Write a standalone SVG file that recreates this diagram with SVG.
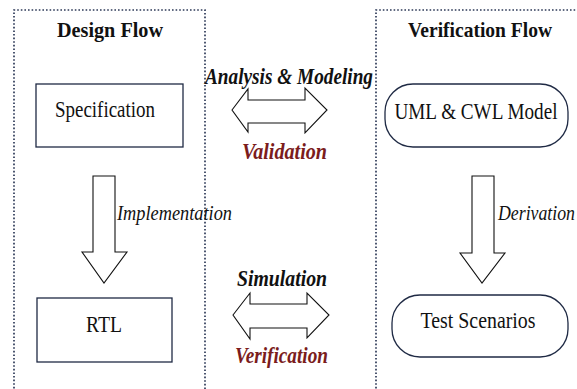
<svg xmlns="http://www.w3.org/2000/svg" width="577" height="389" viewBox="0 0 577 389" font-family="'Liberation Serif', 'DejaVu Serif', serif">
<style>
.frame{fill:none;stroke:#2e3a58;stroke-width:1.7;stroke-dasharray:1.6 2}
.box{fill:#fff;stroke:#1f2a44;stroke-width:1.3}
.arr{fill:#fff;stroke:#111;stroke-width:1.1;stroke-linejoin:miter}
text{font-family:'Liberation Serif','DejaVu Serif',serif;fill:#111}
.title{font-weight:bold;font-size:21px}
.lbl{font-size:23px}
.it{font-style:italic;font-size:21px}
.bi{font-style:italic;font-weight:bold;font-size:23px}
.red{fill:#7b1c1c}
</style>
<rect width="577" height="389" fill="#fff"/>
<g id="design-flow">
<path class="frame" d="M14 392 V10 H205 V392"/>
<text class="title" x="110" y="37" text-anchor="middle" textLength="106" lengthAdjust="spacingAndGlyphs">Design Flow</text>
</g>
<g id="verification-flow">
<path class="frame" d="M376 392 V10 H580"/>
<text class="title" x="480" y="37" text-anchor="middle" textLength="144" lengthAdjust="spacingAndGlyphs">Verification Flow</text>
</g>
<g id="specification">
<rect class="box" x="36" y="84" width="147" height="63"/>
<text class="lbl" x="105" y="117" text-anchor="middle" textLength="100" lengthAdjust="spacingAndGlyphs">Specification</text>
</g>
<g id="rtl">
<rect class="box" x="37" y="298" width="135" height="64"/>
<text class="lbl" x="104" y="332" text-anchor="middle" textLength="36" lengthAdjust="spacingAndGlyphs">RTL</text>
</g>
<g id="uml-cwl-model">
<rect class="box" x="385" y="84" width="183" height="63" rx="28" ry="28"/>
<text class="lbl" x="476" y="119" text-anchor="middle" textLength="163" lengthAdjust="spacingAndGlyphs">UML &amp; CWL Model</text>
</g>
<g id="test-scenarios">
<rect class="box" x="392" y="295" width="176" height="62" rx="28" ry="28"/>
<text class="lbl" x="478" y="328" text-anchor="middle" textLength="115" lengthAdjust="spacingAndGlyphs">Test Scenarios</text>
</g>
<g id="connectors">
<g id="implementation">
<path class="arr" d="M93 176 H115 V252 H127 L104 283 L82 252 H93 Z"/>
<text class="it" x="117" y="220" textLength="115" lengthAdjust="spacingAndGlyphs">Implementation</text>
</g>
<g id="derivation">
<path class="arr" d="M472 176 H494 V253 H505 L482 283 L460 253 H472 Z"/>
<text class="it" x="498" y="220" textLength="77" lengthAdjust="spacingAndGlyphs">Derivation</text>
</g>
<g id="analysis-validation">
<path class="arr" d="M232 110 L248 89 V100 H305 V88 L327 110 L305 133 V123 H248 V132 Z"/>
<text class="bi" x="205" y="84" textLength="168" lengthAdjust="spacingAndGlyphs">Analysis &amp; Modeling</text>
<text class="bi red" x="242" y="159" textLength="85" lengthAdjust="spacingAndGlyphs">Validation</text>
</g>
<g id="simulation-verification">
<path class="arr" d="M233 315 L250 293 V304 H307 V293 L329 315 L307 338 V328 H250 V339 Z"/>
<text class="bi" x="237" y="286" textLength="90" lengthAdjust="spacingAndGlyphs">Simulation</text>
<text class="bi red" x="235" y="363" textLength="93" lengthAdjust="spacingAndGlyphs">Verification</text>
</g>
</g>
</svg>
